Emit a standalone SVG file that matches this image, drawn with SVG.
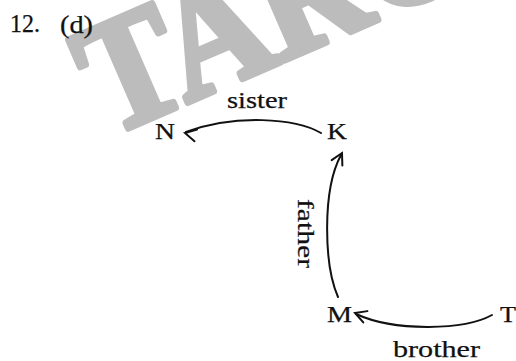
<svg xmlns="http://www.w3.org/2000/svg" xmlns:xlink="http://www.w3.org/1999/xlink" width="516" height="361" viewBox="0 0 516 361">
<style>
  .t { font-family: "Liberation Serif", "Times New Roman", serif; font-size: 24px; fill: #111; stroke: #111; stroke-width: 0.25; }
  .wm { font-family: "Liberation Serif", serif; font-weight: bold; font-size: 160px; fill: #bcbcbc; stroke: #bcbcbc; stroke-width: 7; stroke-linejoin: round; }
  .c { fill: none; stroke: #111; stroke-width: 2; stroke-linecap: round; }
  .h { fill: none; stroke: #111; stroke-width: 2; stroke-linecap: round; stroke-linejoin: miter; }
</style>
<defs>
  <path id="head" d="M11,-6 L0,0 L11,6"/>
</defs>
<rect width="516" height="361" fill="#ffffff"/>
<g id="watermark">
  <text class="wm" transform="translate(108,137) rotate(-23.5) scale(0.9,1)">TARGET</text>
</g>
<g id="title">
  <text class="t" x="10" y="32" style="font-size:25px" textLength="30" lengthAdjust="spacingAndGlyphs">12.</text>
  <text class="t" x="60" y="33" style="font-size:25px" textLength="33" lengthAdjust="spacingAndGlyphs">(d)</text>
</g>
<g id="connectors">
  <g id="edge-K-N">
    <path class="c" d="M321,133 C295,118 235,114 186,132"/>
    <use xlink:href="#head" class="h" transform="translate(185,133) rotate(12)"/>
    <text class="t" x="227" y="108" textLength="60" lengthAdjust="spacingAndGlyphs">sister</text>
  </g>
  <g id="edge-M-K">
    <path class="c" d="M338,297 C324,265 322,190 341,155"/>
    <use xlink:href="#head" class="h" transform="translate(342,153) rotate(117)"/>
    <text class="t" transform="translate(298,199) rotate(90)" textLength="69" lengthAdjust="spacingAndGlyphs">father</text>
  </g>
  <g id="edge-T-M">
    <path class="c" d="M492,315 C465,330 395,332 356,314"/>
    <use xlink:href="#head" class="h" transform="translate(355,313) rotate(20)"/>
    <text class="t" x="393" y="357" textLength="87" lengthAdjust="spacingAndGlyphs">brother</text>
  </g>
</g>
<g id="node-N"><text class="t" x="155" y="139" textLength="20" lengthAdjust="spacingAndGlyphs">N</text></g>
<g id="node-K"><text class="t" x="327" y="139" textLength="20" lengthAdjust="spacingAndGlyphs">K</text></g>
<g id="node-M"><text class="t" x="327" y="322" textLength="25" lengthAdjust="spacingAndGlyphs">M</text></g>
<g id="node-T"><text class="t" x="500" y="322" textLength="16" lengthAdjust="spacingAndGlyphs">T</text></g>
</svg>
